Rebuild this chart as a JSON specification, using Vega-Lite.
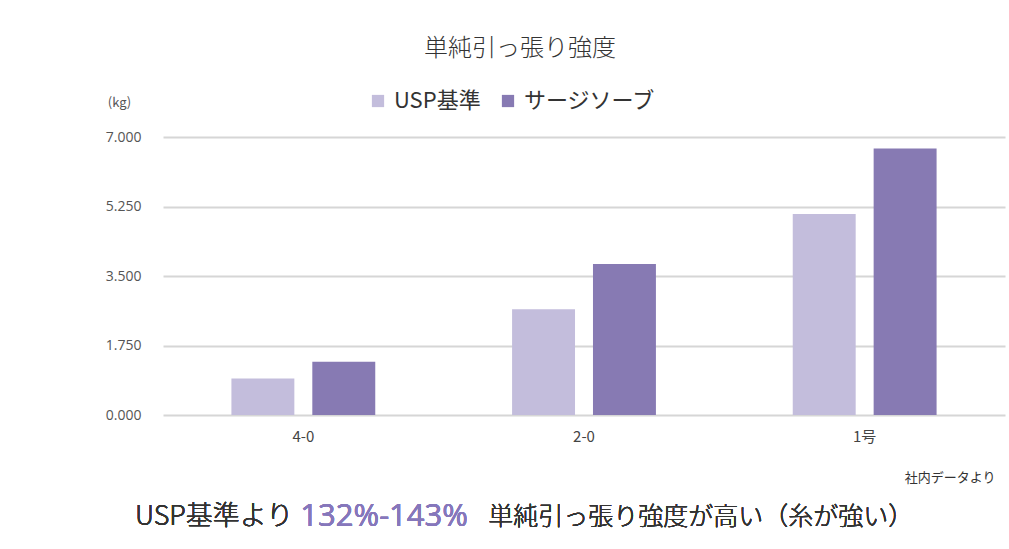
{
  "$schema": "https://vega.github.io/schema/vega-lite/v6.json",
  "width": 842,
  "height": 278,
  "autosize": {"type": "none"},
  "padding": {"left": 163, "top": 137, "right": 4, "bottom": 134},
  "background": "white",
  "title": {
    "text": "単純引っ張り強度",
    "font": "Noto Sans CJK JP",
    "fontSize": 24,
    "fontWeight": 300,
    "color": "#333333",
    "anchor": "middle",
    "dx": -64,
    "offset": 29
  },
  "config": {
    "view": {"stroke": null},
    "font": "Noto Sans CJK JP"
  },
  "data": {
    "values": [
      {"size": "4-0", "series": "USP基準", "kg": 0.92},
      {"size": "4-0", "series": "サージソーブ", "kg": 1.34},
      {"size": "2-0", "series": "USP基準", "kg": 2.66},
      {"size": "2-0", "series": "サージソーブ", "kg": 3.80},
      {"size": "1号", "series": "USP基準", "kg": 5.06},
      {"size": "1号", "series": "サージソーブ", "kg": 6.71}
    ]
  },
  "encoding": {
    "x": {
      "field": "size",
      "type": "nominal",
      "sort": ["4-0", "2-0", "1号"],
      "scale": {"paddingInner": 0.4875, "paddingOuter": 0.24375},
      "axis": {
        "title": "社内データより",
        "titleFont": "Noto Sans CJK JP",
        "titleFontSize": 13,
        "titleFontWeight": "normal",
        "titleColor": "#333333",
        "titleAlign": "right",
        "titleBaseline": "middle",
        "titleAnchor": null,
        "titleX": 832,
        "titleY": 62,
        "labelAngle": 0,
        "labelFont": "Noto Sans CJK JP",
        "labelFontSize": 15,
        "labelColor": "#444444",
        "labelPadding": 14,
        "domain": false,
        "ticks": false,
        "grid": false
      }
    }
  },
  "layer": [
    {
      "mark": {"type": "bar"},
      "encoding": {
        "xOffset": {
          "field": "series",
          "type": "nominal",
          "sort": ["USP基準", "サージソーブ"],
          "scale": {"paddingInner": 0.222, "paddingOuter": 0}
        },
        "y": {
          "field": "kg",
          "type": "quantitative",
          "scale": {"domain": [0, 7], "nice": false},
          "axis": {
            "values": [0, 1.75, 3.5, 5.25, 7],
            "format": ".3f",
            "title": "(kg)",
            "titleAngle": 0,
            "titleFont": "Noto Sans CJK JP",
            "titleFontSize": 13,
            "titleFontWeight": "normal",
            "titleColor": "#555555",
            "titleAlign": "center",
            "titleBaseline": "middle",
            "titleAnchor": null,
            "titleX": -44,
            "titleY": -35,
            "labelFont": "Open Sans",
            "labelFontSize": 14,
            "labelColor": "#555555",
            "labelPadding": 22,
            "domain": false,
            "ticks": false,
            "gridColor": "#d6d6d6",
            "gridWidth": 2
          }
        },
        "color": {
          "field": "series",
          "type": "nominal",
          "sort": ["USP基準", "サージソーブ"],
          "scale": {"range": ["#c3bddc", "#877ab3"]},
          "legend": {
            "orient": "none",
            "legendX": 204,
            "legendY": -47,
            "direction": "horizontal",
            "title": null,
            "symbolType": "square",
            "symbolSize": 150,
            "symbolStrokeWidth": 0,
            "labelFont": "Noto Sans CJK JP",
            "labelFontSize": 22,
            "labelColor": "#333333",
            "columnPadding": 16,
            "labelOffset": 5,
            "padding": 0
          }
        }
      }
    },
    {
      "mark": {"type": "text", "text": "USP基準より", "align": "right", "baseline": "middle", "dx": -10, "dy": 102, "fontSize": 27, "font": "Noto Sans CJK JP", "fontWeight": 300, "color": "#333333"},
      "encoding": {"x": {"datum": "4-0"}, "y": {"datum": 0}}
    },
    {
      "mark": {"type": "text", "text": "132%-143%", "align": "left", "baseline": "middle", "dx": -3, "dy": 102, "fontSize": 31, "font": "Open Sans", "fontWeight": 400, "color": "#8677bb"},
      "encoding": {"x": {"datum": "4-0"}, "y": {"datum": 0}}
    },
    {
      "mark": {"type": "text", "text": "単純引っ張り強度が高い（糸が強い）", "align": "left", "baseline": "middle", "dx": 185, "dy": 102, "fontSize": 25, "font": "Noto Sans CJK JP", "fontWeight": 300, "color": "#333333"},
      "encoding": {"x": {"datum": "4-0"}, "y": {"datum": 0}}
    }
  ]
}
